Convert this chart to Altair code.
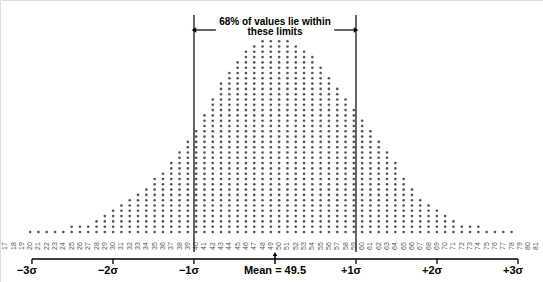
import altair as alt
import pandas as pd

# ---- data ----
values = list(range(17, 82))
counts = [0, 0, 0, 1, 1, 1, 1, 1, 2, 2, 2, 3, 4, 5, 6, 7, 8, 9, 11,
          12, 14, 16, 18, 20, 23, 26, 29, 31, 33, 35, 36,
          37, 37, 37, 37,
          36, 35, 34, 32, 30, 28, 26, 24, 22, 20, 18, 16, 14, 11, 9, 7, 6, 5, 4, 3,
          2, 2, 2, 1, 1, 1, 1, 0, 0, 0]
MEAN = 49.5
SD = 9.76
sigma_k = [-3, -2, -1, 1, 2, 3]
sigma_labels = ["\u22123\u03c3", "\u22122\u03c3", "\u22121\u03c3", "+1\u03c3", "+2\u03c3", "+3\u03c3"]
mean_label = "Mean = 49.5"
note_lines = ["68% of values lie within", "these limits"]

# ---- tables ----
dots = pd.DataFrame([{"v": v, "row": r} for v, c in zip(values, counts) for r in range(c)])
labels = pd.DataFrame({"v": values, "t": [str(v) for v in values]})
sig = pd.DataFrame({"pos": [MEAN + k * SD for k in sigma_k], "lab": sigma_labels})
one_sd = pd.DataFrame({"pos": [MEAN - SD, MEAN + SD]})
axis_df = pd.DataFrame({"a": [MEAN - 3 * SD], "b": [MEAN + 3 * SD]})
mean_df = pd.DataFrame({"pos": [MEAN], "lab": [mean_label]})
arrows = pd.DataFrame({"a": [MEAN - SD, MEAN + 0.73 * SD], "b": [MEAN - 0.73 * SD, MEAN + SD]})
heads = pd.DataFrame({"pos": [MEAN - SD, MEAN + SD],
                      "shape": ["triangle-left", "triangle-right"],
                      "off": [3, -3]})
notes = pd.DataFrame({"pos": [MEAN, MEAN], "lab": note_lines, "yy": [22, 32]})

xs = alt.Scale(domain=[16.37, 81.79], nice=False, zero=False)
ys = alt.Scale(domain=[-9.434, 43.774], nice=False, zero=False)
FONT = "Liberation Sans"

dot_layer = alt.Chart(dots).mark_circle(size=7, color="#555555", opacity=1).encode(
    x=alt.X("v:Q", scale=xs, axis=None),
    y=alt.Y("row:Q", scale=ys, axis=None),
)

label_layer = alt.Chart(labels).mark_text(angle=270, fontSize=7, color="#555555", font=FONT).encode(
    x=alt.X("v:Q", scale=xs, axis=None),
    y=alt.value(246),
    text="t:N",
)

axis_line = alt.Chart(axis_df).mark_rule(color="black", strokeWidth=1.3).encode(
    x=alt.X("a:Q", scale=xs, axis=None), x2="b:Q", y=alt.value(259)
)

ticks = alt.Chart(sig).mark_rule(color="black", strokeWidth=1.3).encode(
    x=alt.X("pos:Q", scale=xs, axis=None), y=alt.value(259), y2=alt.value(264)
)

sig_text = alt.Chart(sig).mark_text(fontSize=11, fontWeight="bold", font=FONT, dx=-5, color="black").encode(
    x=alt.X("pos:Q", scale=xs, axis=None), y=alt.value(271), text="lab:N"
)

sd_lines = alt.Chart(one_sd).mark_rule(color="black", strokeWidth=1.2).encode(
    x=alt.X("pos:Q", scale=xs, axis=None), y=alt.value(15), y2=alt.value(252)
)

mean_shaft = alt.Chart(mean_df).mark_rule(color="black", strokeWidth=1.5).encode(
    x=alt.X("pos:Q", scale=xs, axis=None), y=alt.value(255), y2=alt.value(264)
)
mean_head = alt.Chart(mean_df).mark_point(shape="triangle-up", filled=True, size=22, color="black", opacity=1).encode(
    x=alt.X("pos:Q", scale=xs, axis=None), y=alt.value(254)
)
mean_text = alt.Chart(mean_df).mark_text(fontSize=11, fontWeight="bold", font=FONT, color="black").encode(
    x=alt.X("pos:Q", scale=xs, axis=None), y=alt.value(271), text="lab:N"
)

arrow_lines = alt.Chart(arrows).mark_rule(color="black", strokeWidth=1.2).encode(
    x=alt.X("a:Q", scale=xs, axis=None), x2="b:Q", y=alt.value(30)
)
arrow_heads = alt.Chart(heads).mark_point(filled=True, size=28, color="black", opacity=1).encode(
    x=alt.X("pos:Q", scale=xs, axis=None), y=alt.value(30),
    shape=alt.Shape("shape:N", scale=None), xOffset=alt.XOffset("off:Q", scale=None)
)
note_text = alt.Chart(notes).mark_text(fontSize=10, fontWeight="bold", font=FONT, color="black").encode(
    x=alt.X("pos:Q", scale=xs, axis=None), y=alt.Y("yy:Q", scale=None), text="lab:N"
)

chart = alt.layer(
    dot_layer, label_layer, axis_line, ticks, sig_text, sd_lines,
    mean_shaft, mean_head, mean_text, arrow_lines, arrow_heads, note_text
).properties(
    width=543, height=282, padding=0,
    autosize=alt.AutoSizeParams(type="none")
).configure_view(strokeWidth=0).configure(background="white")

chart.save("out.html", embed_options={"renderer": "svg", "actions": False})
